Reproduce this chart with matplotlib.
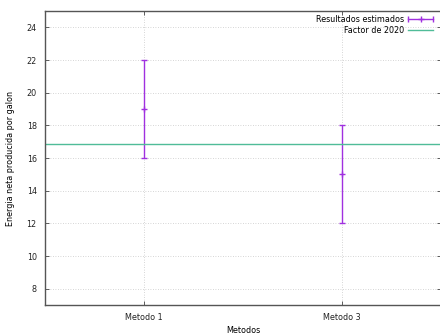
import matplotlib
matplotlib.use("Agg")
import matplotlib.pyplot as plt
from matplotlib.lines import Line2D
from matplotlib.legend_handler import HandlerLine2D

# data
metodos = ["Metodo 1", "Metodo 3"]
metodo_x = [1, 3]
estimado = [19, 15]
minimo = [16, 12]
maximo = [22, 18]
factor_2020 = 16.87
y_ticks = [8, 10, 12, 14, 16, 18, 20, 22, 24]

purple = "#a030e0"
green = "#50bc98"

plt.rcParams["font.family"] = ["DejaVu Sans"]
plt.rcParams["font.size"] = 5.8

fig = plt.figure(figsize=(4.4, 3.34), dpi=100)
# right edge of the plot box runs just past the image, as in the reference
ax = fig.add_axes([45 / 440, 29 / 334, 396 / 440, 294 / 334])

lo = [e - m for e, m in zip(estimado, minimo)]
hi = [M - e for e, M in zip(estimado, maximo)]
ax.errorbar(metodo_x, estimado, yerr=[lo, hi], fmt="+", color=purple,
            ms=5, mew=1, elinewidth=1, capsize=2.5, capthick=1)
hl = ax.axhline(factor_2020, color=green, lw=1, label="Factor de 2020")

ax.set_xlim(0, 4)
ax.set_ylim(7, 25)
ax.set_xticks(metodo_x)
ax.set_xticklabels(metodos)
ax.set_yticks(y_ticks)

ax.grid(True, color="#c8c8c8", linestyle=(0, (1, 2)), linewidth=0.6)
ax.tick_params(direction="in", length=3, width=0.6, colors="#444444",
               labelcolor="#222222", top=True, right=True)
ax.tick_params(axis="y", pad=6)
ax.tick_params(axis="x", pad=6)
for s in ax.spines.values():
    s.set_color("#555555")
    s.set_linewidth(1)

ax.set_xlabel("Metodos")
ax.set_ylabel("Energia neta producida por galon")
ax.xaxis.set_label_coords(0.5, -0.071)
ax.yaxis.set_label_coords(-0.076, 0.5)

# gnuplot style key: horizontal error bar sample
cap_line = Line2D([], [], color=purple, lw=1, marker="|", ms=5, mew=1)
cen_mark = Line2D([], [], color=purple, lw=0, marker="+", ms=5, mew=1)
ax.legend(handles=[(cap_line, cen_mark), hl],
          labels=["Resultados estimados", "Factor de 2020"],
          handler_map={cap_line: HandlerLine2D(numpoints=2, marker_pad=0),
                       cen_mark: HandlerLine2D(numpoints=1)},
          loc="upper right", bbox_to_anchor=(0.98, 0.986),
          frameon=False, markerfirst=False, handlelength=3.1,
          handletextpad=0.5, labelspacing=0.25, borderpad=0, borderaxespad=0)

fig.savefig("out.png", dpi=100)
